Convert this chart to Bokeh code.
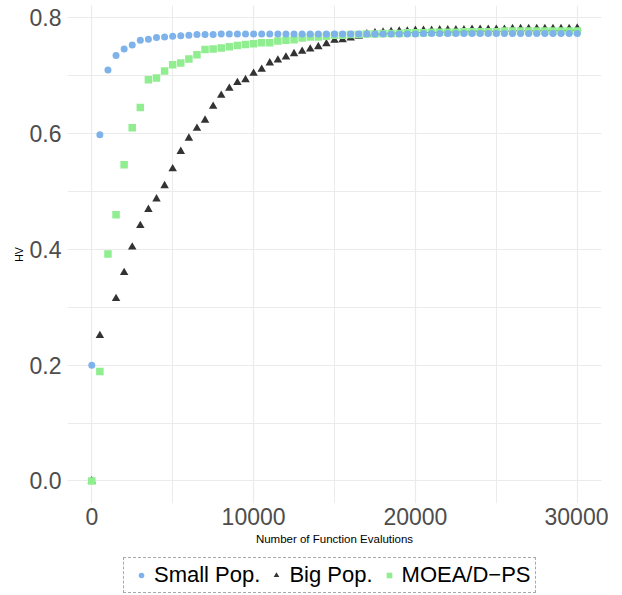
from bokeh.plotting import figure
from bokeh.layouts import column
from bokeh.models import (Range1d, SingleIntervalTicker, NumeralTickFormatter,
                          Legend, LegendItem, ColumnDataSource)
from bokeh.embed import file_html
from bokeh.resources import INLINE

nan = float("nan")

evaluations = list(range(0, 30001, 500))

small_pop = [0.200, 0.598, 0.710, 0.735, 0.746, 0.753, 0.761, 0.763, 0.766, 0.767,
             0.768, 0.769, 0.770, 0.771, 0.771, 0.771, 0.772, 0.772, 0.772, 0.772,
             0.772, 0.772, 0.772, 0.772, 0.772, 0.772, 0.772, 0.772, 0.772, 0.772,
             0.772, 0.772, 0.772, 0.772, 0.772, 0.772, 0.772, 0.772, 0.772, 0.772,
             0.772, 0.773, 0.773, 0.773, 0.773, 0.773, 0.773, 0.773, 0.773, 0.773,
             0.773, 0.773, 0.773, 0.773, 0.773, 0.773, 0.773, 0.773, 0.773, 0.773,
             0.773]

big_pop = [0.000, 0.251, nan, 0.315, 0.360, 0.404, 0.441, 0.469, 0.487, 0.510,
           0.539, 0.569, 0.592, 0.609, 0.623, 0.647, 0.666, 0.678, 0.688, 0.693,
           0.704, 0.711, 0.722, 0.727, 0.732, 0.738, 0.742, 0.746, 0.750, 0.755,
           0.761, 0.762, 0.765, 0.768, 0.772, 0.774, 0.775, 0.776, 0.777, 0.777,
           0.778, 0.778, 0.778, 0.779, 0.779, 0.779, 0.779, 0.780, 0.780, 0.780,
           0.780, 0.780, 0.781, 0.781, 0.781, 0.781, 0.781, 0.781, 0.781, 0.781,
           0.782]

moead_ps = [0.000, 0.189, 0.392, 0.460, 0.546, 0.610, 0.645, 0.693, 0.696, 0.708,
            0.719, 0.722, 0.729, 0.736, 0.745, 0.746, 0.748, 0.750, 0.752, 0.754,
            0.755, 0.757, 0.757, 0.760, 0.761, 0.762, 0.765, 0.767, 0.767, 0.768,
            0.770, 0.770, 0.771, 0.771, 0.772, 0.772, 0.773, 0.773, 0.773, 0.774,
            0.774, 0.774, 0.775, 0.775, 0.775, 0.775, 0.776, 0.776, 0.776, 0.776,
            0.776, 0.777, 0.777, 0.777, 0.777, 0.777, 0.777, 0.777, 0.777, 0.777,
            0.777]

series_labels = ["Small Pop.", "Big Pop.", "MOEA/D\u2212PS"]

FONT = "Liberation Sans"
STYLES = [dict(marker="circle", size=7, fill_color="#7EB2EA", line_color=None),
          dict(marker="triangle", size=8.5, fill_color="#333333", line_color=None),
          dict(marker="square", size=7.5, fill_color="#90EE90", line_color=None)]
COLS = ["s", "b", "m"]

src = ColumnDataSource(dict(x=evaluations, s=small_pop, b=big_pop, m=moead_ps))

p = figure(frame_width=534, frame_height=498,
           x_range=Range1d(-1500, 31500), y_range=Range1d(-0.0389, 0.8212),
           output_backend="svg", toolbar_location=None,
           min_border_left=67, min_border_right=7, min_border_top=5,
           min_border_bottom=52)
p.outline_line_color = None
p.background_fill_color = "white"
p.border_fill_color = "white"

# draw order: Big Pop., MOEA/D-PS, Small Pop.
for i in (1, 2, 0):
    p.scatter("x", COLS[i], source=src, **STYLES[i])

# axes
p.xaxis.ticker = SingleIntervalTicker(interval=10000, num_minor_ticks=2)
p.yaxis.ticker = SingleIntervalTicker(interval=0.2, num_minor_ticks=2)
p.xaxis.formatter = NumeralTickFormatter(format="0")
p.yaxis.formatter = NumeralTickFormatter(format="0.0")
for ax in (p.xaxis, p.yaxis):
    ax.axis_line_color = None
    ax.major_tick_line_color = None
    ax.minor_tick_line_color = None
    ax.major_tick_out = 0
    ax.minor_tick_out = 0
    ax.major_tick_in = 0
    ax.minor_tick_in = 0
    ax.major_label_text_font = FONT
    ax.major_label_text_font_size = "23px"
    ax.major_label_text_color = "#4D4D4D"
    ax.axis_label_text_font = FONT
    ax.axis_label_text_font_style = "normal"
    ax.axis_label_text_color = "black"

p.xaxis.axis_label = "Number of Function Evalutions"
p.xaxis.axis_label_text_font_size = "11.5px"
p.xaxis.major_label_standoff = 4
p.xaxis.axis_label_standoff = 5

p.yaxis.axis_label = "HV"
p.yaxis.axis_label_text_font_size = "10.5px"
p.yaxis.major_label_standoff = 6
p.yaxis.axis_label_standoff = 2

for g in (p.xgrid, p.ygrid):
    g.grid_line_color = "#EBEBEB"
    g.grid_line_width = 1.2
    g.minor_grid_line_color = "#EBEBEB"
    g.minor_grid_line_width = 1.0

# legend strip below the plot (same series, view range shows no points)
lf = figure(width=608, height=40, x_range=Range1d(-3, -2), y_range=Range1d(-3, -2),
            output_backend="svg", toolbar_location=None,
            min_border_left=0, min_border_right=0, min_border_top=0,
            min_border_bottom=0)
lf.xaxis.visible = False
lf.yaxis.visible = False
lf.grid.visible = False
lf.outline_line_color = None
lf.background_fill_color = "white"
lf.border_fill_color = "white"

items = []
for i in range(3):
    r = lf.scatter("x", COLS[i], source=src, **STYLES[i])
    items.append(LegendItem(label=series_labels[i], renderers=[r]))

legend = Legend(items=items, orientation="horizontal", location=(56, 2),
                border_line_color="#555555", border_line_dash="1 2",
                border_line_width=1, padding=4, spacing=3,
                glyph_width=26, glyph_height=14, label_standoff=0,
                label_text_font=FONT, label_text_font_size="22px",
                label_text_color="black",
                background_fill_color="white", margin=0)
lf.add_layout(legend)

layout = column(p, lf, spacing=0)
open("out.html", "w").write(file_html(layout, INLINE))
